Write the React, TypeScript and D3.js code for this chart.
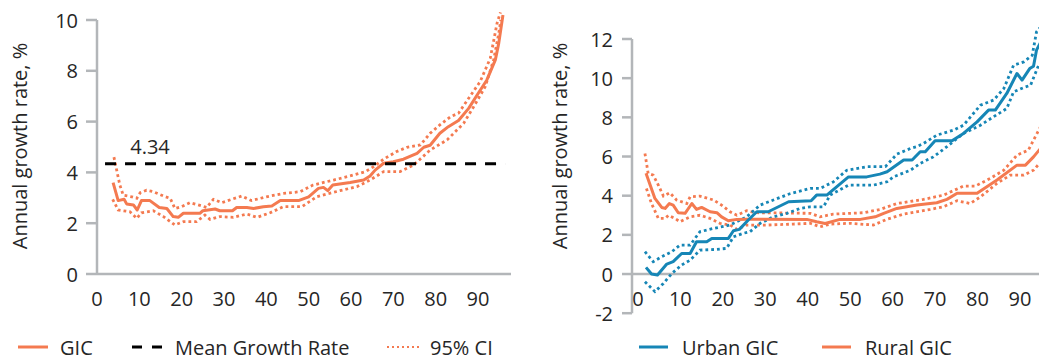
import React from "react";
import * as d3 from "d3";

type Pt = [number, number];

// ---------- Left panel: GIC with 95% CI ----------
const gic: Pt[] = [[3.8,3.6],[5,2.89],[6.4,2.94],[7,2.76],[8.6,2.72],[9.5,2.52],[10.5,2.89],[12.5,2.89],[14.7,2.62],[16.5,2.58],[18,2.26],[19.2,2.23],[20.4,2.39],[24.3,2.39],[25,2.49],[27.9,2.56],[29,2.49],[32,2.49],[33,2.62],[35.4,2.62],[37,2.58],[39.3,2.65],[41.3,2.68],[43.3,2.89],[47.6,2.89],[50,3.04],[52.3,3.37],[53.5,3.41],[54.5,3.28],[55.7,3.5],[59.8,3.6],[63,3.7],[64.5,3.86],[65.7,4.09],[67.7,4.36],[70,4.42],[72.4,4.52],[75.6,4.75],[77.2,4.99],[78.7,5.07],[81,5.54],[83,5.8],[85.4,6.04],[87.8,6.52],[89.8,7.05],[92.1,7.64],[94.1,8.43],[94.9,9.08],[95.9,10.2]];
const gicUpper: Pt[] = [[4,4.6],[5.4,3.5],[6.2,3.1],[8.2,3.04],[9.4,2.98],[10.2,3.2],[11.7,3.3],[13.3,3.24],[15.7,3.07],[17.3,2.98],[18.4,2.58],[20,2.65],[22,2.81],[23.9,2.72],[25.9,2.62],[27.5,2.94],[29.5,2.81],[31.8,2.94],[34.2,3.07],[36.5,2.89],[40,3.04],[44,3.17],[48,3.24],[51,3.5],[55.9,3.7],[59.8,3.86],[63.4,4.03],[65.3,4.22],[67.7,4.52],[70.8,4.82],[73.2,4.99],[76.4,5.08],[78.7,5.54],[81,5.87],[83.5,6.19],[85.4,6.33],[87.8,6.92],[90.5,7.57],[92.9,8.49],[94.5,9.87],[95.3,10.3]];
const gicLower: Pt[] = [[3.7,2.94],[5,2.52],[7.8,2.45],[9.4,2.19],[10.5,2.41],[13.3,2.49],[15.7,2.26],[18.4,1.93],[20.4,2.06],[23.5,2.06],[25.5,2.32],[26.7,2.15],[29,2.26],[32.2,2.23],[35.4,2.36],[37.8,2.23],[40.9,2.41],[44,2.65],[48.4,2.65],[51.9,3.04],[54.3,3.15],[57.4,3.28],[61.4,3.44],[64.5,3.7],[67.7,4.03],[71.6,4.03],[74.8,4.29],[78.7,4.88],[82.7,5.28],[86.6,5.93],[89,6.59],[91.7,7.37],[93.7,8.43],[94.9,9.47],[95.4,10.0]];
const meanGrowth = 4.34;
const meanRange: [number, number] = [1.9, 96.4];

// ---------- Right panel: Urban / Rural GIC with CIs ----------
const urban: Pt[] = [[1.9,0.34],[3.2,0],[4.6,-0.05],[6.8,0.51],[8.3,0.63],[10.3,1.05],[12.3,1.05],[13.8,1.65],[16.2,1.65],[17.4,1.82],[21.3,1.82],[22.5,2.21],[23.9,2.28],[26,2.76],[28,3.18],[30.7,3.18],[35.5,3.69],[40.8,3.74],[42.1,4.03],[44.5,4.03],[49.6,4.96],[53.9,4.96],[57,5.1],[58.7,5.22],[62.6,5.82],[64.6,5.82],[66.5,6.24],[67.7,6.24],[70,6.8],[74,6.8],[76.7,7.18],[79.9,7.77],[82.6,8.37],[84.2,8.37],[86.9,9.22],[89.3,10.24],[90.5,9.9],[92.3,10.49],[93.2,10.61],[93.9,11.43],[94.8,11.8]];
const urbanUpper: Pt[] = [[1.65,1.14],[3.6,0.63],[5.6,0.88],[8,1.14],[9.9,1.48],[12.3,1.48],[14.6,2.16],[17.8,2.33],[21.7,2.5],[25.6,2.92],[28.8,3.52],[31.9,3.78],[35.8,4.1],[40.6,4.37],[42.9,4.37],[46,4.7],[49.2,5.3],[53.9,5.48],[58.3,5.48],[61,6.12],[64.2,6.41],[65.7,6.5],[67.3,6.67],[70.4,7.09],[74.4,7.35],[76.7,7.6],[80.7,8.62],[83.8,8.88],[86.2,9.47],[88.5,10.66],[90.9,10.83],[92.9,11.17],[93.9,12.36],[94.8,12.6]];
const urbanLower: Pt[] = [[1.65,-0.39],[4,-0.9],[6,-0.48],[8,0.03],[10.3,0.46],[12.3,0.71],[14.6,1.22],[18.6,1.26],[20.9,1.31],[22.5,1.9],[24.8,2.08],[26.4,2.16],[28.8,2.59],[31.9,2.92],[35.1,3.1],[38.2,3.35],[40.6,3.43],[43.7,3.43],[45.3,4.03],[49.6,4.54],[55.5,4.54],[58.7,4.71],[60.2,4.96],[64.2,5.3],[66.5,5.65],[69.6,5.98],[72.8,6.5],[76.7,7.18],[80.7,7.6],[83.8,8.03],[86.9,8.45],[88.5,9.3],[90.9,9.52],[92.5,9.64],[94.4,10.66]];
const rural: Pt[] = [[1.9,5.14],[4,3.86],[5.6,3.4],[6.4,3.35],[7.4,3.6],[8.3,3.52],[9.5,3.13],[11.1,3.1],[12.7,3.6],[13.8,3.3],[15,3.4],[17,3.18],[18.6,3.13],[19.7,2.92],[21.3,2.72],[23.3,2.79],[25.6,2.8],[39.8,2.79],[42.1,2.67],[44.1,2.58],[47.6,2.79],[52.4,2.79],[55.9,2.92],[57.9,3.1],[61,3.35],[65.7,3.52],[70.4,3.64],[72.8,3.81],[75.2,4.12],[79.9,4.12],[84.6,4.8],[89.3,5.56],[91.3,5.56],[93.2,5.98],[94.8,6.4]];
const ruralUpper: Pt[] = [[1.65,6.15],[2.4,5.14],[3.6,5.05],[4.8,4.54],[6,3.98],[7.5,4.15],[9.1,3.78],[11.5,3.6],[12.3,3.94],[14.6,3.98],[17.8,3.78],[19.7,3.52],[21.7,3.18],[23.3,3.0],[25.6,3.23],[28,3.13],[40.6,3.1],[42.9,2.92],[46,3.06],[53.1,3.13],[57.1,3.3],[61,3.6],[67.3,3.81],[72,4.03],[76.7,4.49],[79.5,4.49],[83,4.88],[86.2,5.3],[89.3,6.07],[92,6.33],[93.6,7.0],[94.8,7.5]];
const ruralLower: Pt[] = [[2,4.37],[3.2,3.6],[4.8,2.84],[6.4,2.84],[7.2,3.0],[8.7,2.84],[9.9,2.67],[12.3,2.92],[14.6,3.0],[17,2.84],[19.3,2.59],[21.7,2.5],[23.3,2.28],[25.6,2.5],[30.3,2.5],[36.6,2.55],[40.6,2.59],[42.9,2.41],[45.3,2.55],[50,2.59],[55.5,2.5],[58.6,2.79],[62.6,3.06],[68.9,3.3],[72,3.44],[75.2,3.74],[78.3,3.6],[80.7,3.94],[84.6,4.63],[87.7,5.05],[90.9,5.05],[93.2,5.3],[94.8,5.7]];

// ---------- Ticks & labels ----------
const xTicks = [0, 10, 20, 30, 40, 50, 60, 70, 80, 90];
const leftYTicks = [0, 2, 4, 6, 8, 10];
const rightYTicks = [-2, 0, 2, 4, 6, 8, 10, 12];
const yTitle = "Annual growth rate, %";
const leftLegend = ["GIC", "Mean Growth Rate", "95% CI"];
const rightLegend = ["Urban GIC", "Rural GIC"];

const ORANGE = "#F47A50";
const BLUE = "#1686B6";
const AXIS = "#B3B6B9";
const TEXT = "#262626";
const FONT = "'Open Sans', 'Noto Sans', sans-serif";

const W = 1039;
const H = 357;

export default function App() {
  // left scales
  const lx = d3.scaleLinear().domain([0, 97.8]).range([97, 511]);
  const ly = d3.scaleLinear().domain([0, 10]).range([274, 20]);
  // right scales
  const rx = d3.scaleLinear().domain([-1.4, 96]).range([632, 1045.4]);
  const ry = d3.scaleLinear().domain([-2, 12]).range([313.2, 39]);

  const lLine = d3.line<Pt>().x((d) => lx(d[0])).y((d) => ly(d[1]));
  const rLine = d3.line<Pt>().x((d) => rx(d[0])).y((d) => ry(d[1]));

  const dotted = { strokeDasharray: "2.8 3", strokeWidth: 2.8 };
  const solidW = 3;

  const txt = { fontFamily: FONT, fontSize: 20, fill: TEXT } as const;

  return (
    <svg
      width={W}
      height={H}
      style={{ position: "absolute", left: 0, top: 0, background: "#fff" }}
    >
      {/* ===== Left panel ===== */}
      <g>
        {/* axes */}
        <line x1={lx(0)} x2={lx(0)} y1={ly(10)} y2={ly(0)} stroke={AXIS} strokeWidth={2.5} />
        <line x1={lx(0)} x2={511} y1={ly(0)} y2={ly(0)} stroke={AXIS} strokeWidth={2.5} />
        {leftYTicks.map((t) => (
          <g key={t}>
            <line x1={lx(0) - 11} x2={lx(0)} y1={ly(t)} y2={ly(t)} stroke={AXIS} strokeWidth={2.5} />
            <text x={lx(0) - 19} y={ly(t) + 7.5} textAnchor="end" {...txt}>{t}</text>
          </g>
        ))}
        {xTicks.map((t) => (
          <text key={t} x={lx(t)} y={306} textAnchor="middle" {...txt}>{t}</text>
        ))}
        <text transform={`translate(27,146) rotate(-90)`} textAnchor="middle" {...txt}>{yTitle}</text>

        {/* series */}
        <path d={lLine(gicUpper) || ""} fill="none" stroke={ORANGE} {...dotted} />
        <path d={lLine(gicLower) || ""} fill="none" stroke={ORANGE} {...dotted} />
        <path d={lLine(gic) || ""} fill="none" stroke={ORANGE} strokeWidth={solidW} strokeLinejoin="round" />
        <line
          x1={lx(meanRange[0])} x2={lx(meanRange[1])}
          y1={ly(meanGrowth)} y2={ly(meanGrowth)}
          stroke="#000" strokeWidth={3} strokeDasharray="11 9"
        />
        <text x={150} y={154} textAnchor="middle" {...txt}>{meanGrowth.toFixed(2)}</text>

        {/* legend */}
        <line x1={18} x2={48} y1={347} y2={347} stroke={ORANGE} strokeWidth={3} />
        <text x={60} y={355} {...txt}>{leftLegend[0]}</text>
        <line x1={132} x2={162} y1={347} y2={347} stroke="#000" strokeWidth={3} strokeDasharray="10 10" />
        <text x={175} y={355} {...txt}>{leftLegend[1]}</text>
        <line x1={387} x2={420} y1={347} y2={347} stroke={ORANGE} strokeWidth={2} strokeDasharray="2 3" />
        <text x={430} y={355} {...txt}>{leftLegend[2]}</text>
      </g>

      {/* ===== Right panel ===== */}
      <g>
        <line x1={632} x2={632} y1={ry(12)} y2={ry(-2)} stroke={AXIS} strokeWidth={2.5} />
        <line x1={632} x2={W + 10} y1={ry(0)} y2={ry(0)} stroke={AXIS} strokeWidth={2.5} />
        {rightYTicks.map((t) => (
          <g key={t}>
            <line x1={622} x2={632} y1={ry(t)} y2={ry(t)} stroke={AXIS} strokeWidth={2.5} />
            <text x={613} y={ry(t) + 7.5} textAnchor="end" {...txt}>{t}</text>
          </g>
        ))}
        {xTicks.map((t) => (
          <text key={t} x={rx(t)} y={306} textAnchor="middle" {...txt}>{t}</text>
        ))}
        <text transform={`translate(567,146) rotate(-90)`} textAnchor="middle" {...txt}>{yTitle}</text>

        <path d={rLine(ruralUpper) || ""} fill="none" stroke={ORANGE} {...dotted} />
        <path d={rLine(ruralLower) || ""} fill="none" stroke={ORANGE} {...dotted} />
        <path d={rLine(urbanUpper) || ""} fill="none" stroke={BLUE} {...dotted} />
        <path d={rLine(urbanLower) || ""} fill="none" stroke={BLUE} {...dotted} />
        <path d={rLine(rural) || ""} fill="none" stroke={ORANGE} strokeWidth={solidW} strokeLinejoin="round" />
        <path d={rLine(urban) || ""} fill="none" stroke={BLUE} strokeWidth={solidW} strokeLinejoin="round" />

        <line x1={639} x2={668} y1={347} y2={347} stroke={BLUE} strokeWidth={3} />
        <text x={682} y={355} {...txt}>{rightLegend[0]}</text>
        <line x1={822} x2={851} y1={347} y2={347} stroke={ORANGE} strokeWidth={3} />
        <text x={865} y={355} {...txt}>{rightLegend[1]}</text>
      </g>
    </svg>
  );
}
